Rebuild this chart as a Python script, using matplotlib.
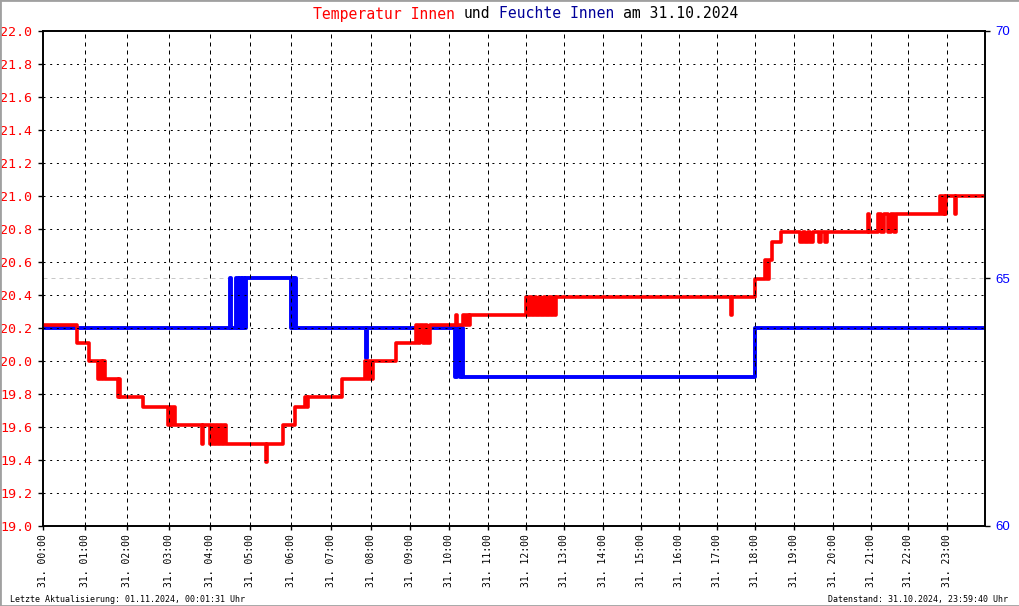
import numpy as np
import matplotlib
matplotlib.use("Agg")
import matplotlib.pyplot as plt
from matplotlib.patches import Rectangle

# temperature steps (hour of day, degC)
temp_t = [0.00, 0.80, 1.09, 1.31, 1.35, 1.40, 1.43, 1.47, 1.79, 1.81, 1.84, 2.38,
          2.97, 3.01, 3.05, 3.09, 3.13, 3.80, 3.83, 4.00, 4.05, 4.10, 4.15, 4.20,
          4.25, 4.30, 4.34, 4.40, 5.39, 5.42, 5.81, 6.11, 6.35, 6.40, 6.44, 7.28,
          7.86, 7.90, 7.95, 8.00, 8.06, 8.64, 9.15, 9.20, 9.26, 9.32, 9.38, 9.44,
          9.50, 10.17, 10.20, 10.35, 10.40, 10.45, 10.50, 10.53, 12.00, 12.05, 12.10,
          12.16, 12.22, 12.26, 12.34, 12.40, 12.47, 12.53, 12.60, 12.66, 12.72, 12.76,
          12.79, 17.36, 17.39, 18.00, 18.25, 18.30, 18.36, 18.43, 18.66, 19.16, 19.22,
          19.28, 19.35, 19.42, 19.50, 19.64, 19.70, 19.80, 19.85, 20.92, 20.95, 21.20,
          21.28, 21.35, 21.45, 21.55, 21.62, 21.68, 22.83, 22.87, 22.92, 22.95, 22.99,
          23.22, 23.25, 24.00]
temp_v = [20.22, 20.11, 20.00, 19.89, 20.00, 19.89, 20.00, 19.89, 19.78, 19.89, 19.78, 19.72,
          19.61, 19.72, 19.61, 19.72, 19.61, 19.50, 19.61, 19.50, 19.61, 19.50, 19.61, 19.50,
          19.61, 19.50, 19.61, 19.50, 19.39, 19.50, 19.61, 19.72, 19.78, 19.72, 19.78, 19.89,
          20.00, 19.89, 20.00, 19.89, 20.00, 20.11, 20.22, 20.11, 20.22, 20.11, 20.22, 20.11,
          20.22, 20.28, 20.22, 20.28, 20.22, 20.28, 20.22, 20.28, 20.39, 20.28, 20.39,
          20.28, 20.39, 20.28, 20.39, 20.28, 20.39, 20.28, 20.39, 20.28, 20.39, 20.28,
          20.39, 20.28, 20.39, 20.50, 20.61, 20.50, 20.61, 20.72, 20.78, 20.72, 20.78,
          20.72, 20.78, 20.72, 20.78, 20.72, 20.78, 20.72, 20.78, 20.89, 20.78, 20.89,
          20.78, 20.89, 20.78, 20.89, 20.78, 20.89, 21.00, 20.89, 21.00, 20.89, 21.00,
          20.89, 21.00, 21.00]

# humidity steps (hour of day, %)
hum_t = [0.00, 4.50, 4.53, 4.65, 4.70, 4.74, 4.78, 4.82, 4.86, 4.90, 6.00, 6.04,
         6.08, 6.11, 6.14, 7.88, 7.91, 10.14, 10.19, 10.27, 10.31, 10.35, 18.00, 24.00]
hum_v = [64, 65, 64, 65, 64, 65, 64, 65, 64, 65, 64, 65,
         64, 65, 64, 63.4, 64, 63, 64, 63, 64, 63, 64, 64]

hours = np.arange(24)
tick_labels = ["31. %02d:00" % h for h in hours]

# the source chart plots by sample, so hours are not evenly spaced
warp_h = np.arange(25)
warp_px = [43.3, 85.3, 126.7, 169.3, 210, 250, 290.7, 331, 370.7, 410, 449.3, 488,
           526, 564, 602.7, 641, 679.3, 717.3, 755.3, 794, 832.7, 870.7, 908.3, 946.7, 985]

def fwd(h):
    return np.interp(h, warp_h, warp_px)

def inv(p):
    return np.interp(p, warp_px, warp_h)

RED = "#ff0000"
BLUE = "#0000ff"
NAVY = "#000099"
MONO = "DejaVu Sans Mono"

W, H = 1020, 606
fig = plt.figure(figsize=(W / 100, H / 100), dpi=100)
fig.patch.set_facecolor("white")
ax1 = fig.add_axes([43.3 / W, 80 / H, (985 - 43.3) / W, 495 / H])
ax1.set_xscale("function", functions=(fwd, inv))
ax2 = ax1.twinx()
ax1.set_zorder(ax2.get_zorder() + 1)
ax1.patch.set_visible(False)

ax2.plot(hum_t, hum_v, drawstyle="steps-post", color=BLUE, lw=2.8)
ax2.axhline(65, color="#c8c8c8", lw=0.72, ls=(0, (4, 4)), zorder=1)
ax2.set_ylim(60, 70)
ax2.set_yticks([60, 65, 70])
ax2.tick_params(axis="y", colors=BLUE, length=3.6, width=1, pad=3.6, labelsize=9.5)
for lab in ax2.get_yticklabels():
    lab.set_family("Liberation Sans")
ax2.tick_params(axis="y", color="black")

ax1.plot(temp_t, temp_v, drawstyle="steps-post", color=RED, lw=2.6)
ax1.set_xlim(0, 24)
ax1.set_ylim(19.0, 22.0)
yt = np.round(np.arange(19.0, 22.01, 0.2), 1)
ax1.set_yticks(yt)
ax1.set_yticklabels(["%.1f" % v for v in yt], family=MONO, fontsize=9.6, color=RED)
ax1.tick_params(axis="y", length=3.6, width=1, pad=4.3)
ax1.set_xticks(hours)
ax1.set_xticklabels(tick_labels, rotation=90, family=MONO, fontsize=7)
ax1.xaxis.set_minor_locator(matplotlib.ticker.NullLocator())
ax1.tick_params(axis="x", length=3, width=1, pad=2.5)

for v in yt[1:-1]:
    ax1.axhline(v, color="black", lw=0.72, ls=(0, (2, 4.7)), zorder=3)
for h in hours[1:]:
    ax1.axvline(h, color="black", lw=0.72, ls=(0, (4, 4)), zorder=3)

for ax in (ax1, ax2):
    for s in ax.spines.values():
        s.set_linewidth(1.2)
        s.set_color("black")

# title in colored pieces, monospace so offsets are by character
title = "Temperatur Innen und Feuchte Innen am 31.10.2024"
pieces = [("Temperatur Innen", RED), ("und", "black"), ("Feuchte Innen", NAVY),
          ("am 31.10.2024", "black")]
fs = 10.6
cw = 0.602 * fs * 100 / 72
x0 = 525.5 - len(title) * cw / 2
pos = 0
for txt, col in pieces:
    idx = title.index(txt, pos)
    fig.text((x0 + idx * cw) / W, 1 - 14 / H, txt, color=col, family=MONO,
             fontsize=fs, va="center", ha="left")
    pos = idx + len(txt)

fig.text(10 / W, 1 - 599.5 / H, "Letzte Aktualisierung: 01.11.2024, 00:01:31 Uhr",
         family=MONO, fontsize=6, va="center", ha="left")
fig.text(1008 / W, 1 - 599.5 / H, "Datenstand: 31.10.2024, 23:59:40 Uhr",
         family=MONO, fontsize=6, va="center", ha="right")

fig.patches.append(Rectangle((0, 0), 1, 1, transform=fig.transFigure, fill=False,
                             edgecolor="#a0a0a0", lw=2))

fig.savefig("out.png", dpi=100)
